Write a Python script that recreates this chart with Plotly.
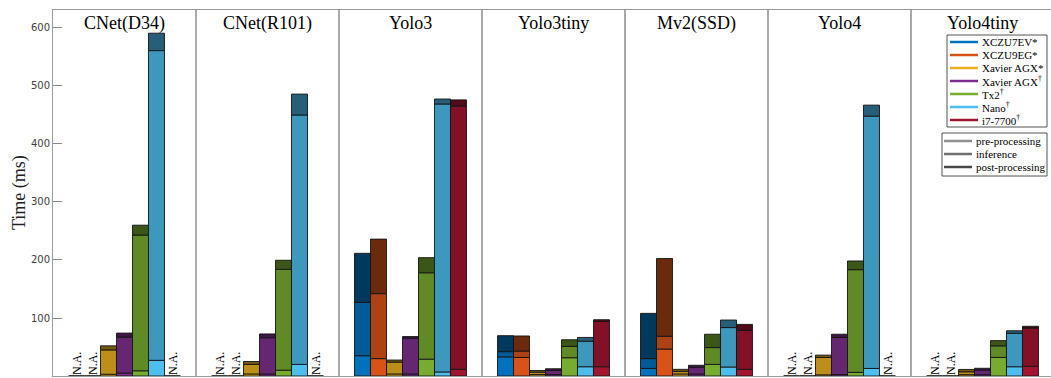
import plotly.graph_objects as go

# Models (one panel each) and devices (one bar per device inside a panel)
models = ["CNet(D34)", "CNet(R101)", "Yolo3", "Yolo3tiny", "Mv2(SSD)", "Yolo4", "Yolo4tiny"]
devices = ["XCZU7EV*", "XCZU9EG*", "Xavier AGX*", "Xavier AGX<sup>†</sup>",
           "Tx2<sup>†</sup>", "Nano<sup>†</sup>", "i7-7700<sup>†</sup>"]
stages = ["pre-processing", "inference", "post-processing"]

N = None  # not available on that device
# Rows: devices, columns: models (time in ms)
pre_ms = [
    [N, N, 35, 33, 13, N, N],
    [N, N, 30, 32, 46.5, N, N],
    [3, 3.5, 3.5, 2.5, 3.5, 2, 2.3],
    [5, 3.5, 3.5, 2.5, 3.5, 2.5, 2.3],
    [9, 10, 29, 31.5, 20, 6.3, 32],
    [27, 20, 7, 16, 15.5, 13, 16],
    [N, N, 11.5, 16, 11.5, N, 16.7],
]
inference_ms = [
    [N, N, 92, 9, 17, N, N],
    [N, N, 112, 11, 22, N, N],
    [42, 16.5, 20.5, 4, 4.5, 30, 5],
    [62, 62.5, 61.5, 7, 11.5, 64, 8],
    [234, 174, 149, 19.5, 29, 177, 20],
    [534, 430, 462, 44, 68, 435, 57.5],
    [N, N, 454, 78, 67, N, 66],
]
post_ms = [
    [N, N, 84.5, 27.5, 78, N, N],
    [N, N, 94, 26, 134, N, N],
    [7, 5, 3.5, 3, 3.5, 4, 4],
    [7, 6.5, 3, 3, 3.5, 5.5, 3],
    [17, 15.5, 26, 11.5, 23, 15, 9],
    [30, 36, 8.5, 6.5, 13, 19, 4.5],
    [N, N, 10.5, 3, 10.5, N, 3],
]

device_colors = ["#0072BD", "#D95319", "#EDB120", "#7E2F8E", "#77AC30", "#4DBEEE", "#A2142F"]
stage_shade = [1.0, 0.8, 0.5]
stage_legend_colors = ["#8f8f8f", "#6f6f6f", "#474747"]

W, H = 1051, 378
M_L, M_R, M_T, M_B = 53, 0, 10, 2
BARGAP = 0.217
Y_MAX = 631
SERIF = "Liberation Serif, DejaVu Serif, serif"


def shade(hex_color, f):
    r, g, b = (int(hex_color[i:i + 2], 16) for i in (1, 3, 5))
    return "rgb({},{},{})".format(round(r * f), round(g * f), round(b * f))


def px_x(px):
    return (px - M_L) / (W - M_L - M_R)


def px_y(py):
    return (H - M_B - py) / (H - M_T - M_B)


fig = go.Figure()
x_idx = list(range(len(models)))
stage_rows = [pre_ms, inference_ms, post_ms]

for k, dev in enumerate(devices):
    base = [0 if v is not None else None for v in pre_ms[k]]
    for s, rows in enumerate(stage_rows):
        vals = rows[k]
        fig.add_trace(go.Bar(
            x=x_idx, y=vals, base=base,
            offsetgroup=str(k),
            marker=dict(color=shade(device_colors[k], stage_shade[s]),
                        line=dict(color="rgba(20,20,20,0.9)", width=1)),
            name=dev + " " + stages[s],
            showlegend=False,
            hovertemplate="%{y} ms<extra></extra>",
        ))
        base = [b + v if (b is not None and v is not None) else None for b, v in zip(base, vals)]

# Bar slot geometry inside each panel
bar_w = (1 - BARGAP) / len(devices)
shapes = []
annotations = []

# "N.A." markers for missing device/model pairs
for k in range(len(devices)):
    for i in x_idx:
        if pre_ms[k][i] is None:
            xc = i + (k - (len(devices) - 1) / 2) * bar_w
            shapes.append(dict(type="line", xref="x", yref="y",
                               x0=xc - bar_w / 2, x1=xc + bar_w / 2, y0=0, y1=0,
                               line=dict(color="black", width=1.5)))
            annotations.append(dict(x=xc, y=0, xref="x", yref="y", text="N.A.",
                                    textangle=-90, showarrow=False,
                                    xanchor="center", yanchor="bottom",
                                    yshift=-1, font=dict(family=SERIF, size=12, color="black")))

# Panel separators and titles
for i in x_idx:
    if i > 0:
        shapes.append(dict(type="line", xref="x", yref="paper", x0=i - 0.5, x1=i - 0.5,
                           y0=0, y1=1, line=dict(color="#555555", width=1)))
    annotations.append(dict(x=i, y=1, xref="x", yref="paper", text=models[i],
                            showarrow=False, yanchor="top", yshift=-1,
                            font=dict(family=SERIF, size=18, color="black")))

# Device legend box
shapes.append(dict(type="rect", xref="paper", yref="paper",
                   x0=px_x(947), x1=px_x(1047), y0=px_y(127), y1=px_y(35),
                   line=dict(color="#555555", width=1), fillcolor="white", layer="above"))
for k, dev in enumerate(devices):
    yy = px_y(42 + 13 * k)
    shapes.append(dict(type="line", xref="paper", yref="paper",
                       x0=px_x(950), x1=px_x(978), y0=yy, y1=yy,
                       line=dict(color=device_colors[k], width=2.5), layer="above"))
    annotations.append(dict(x=px_x(980), y=yy, xref="paper", yref="paper", text=dev,
                            showarrow=False, xanchor="left", yanchor="middle",
                            font=dict(family=SERIF, size=11, color="black")))

# Stage legend box
shapes.append(dict(type="rect", xref="paper", yref="paper",
                   x0=px_x(942), x1=px_x(1047), y0=px_y(176), y1=px_y(133),
                   line=dict(color="#555555", width=1), fillcolor="white", layer="above"))
for s, st in enumerate(stages):
    yy = px_y(141 + 13 * s)
    shapes.append(dict(type="line", xref="paper", yref="paper",
                       x0=px_x(944), x1=px_x(972), y0=yy, y1=yy,
                       line=dict(color=stage_legend_colors[s], width=2.5), layer="above"))
    annotations.append(dict(x=px_x(974), y=yy, xref="paper", yref="paper", text=st,
                            showarrow=False, xanchor="left", yanchor="middle",
                            font=dict(family=SERIF, size=11, color="black")))

# Y axis title
annotations.append(dict(x=px_x(19), y=0.5, xref="paper", yref="paper", text="Time (ms)",
                        textangle=-90, showarrow=False, xanchor="center", yanchor="middle",
                        font=dict(family=SERIF, size=18, color="#222")))

fig.update_layout(
    width=W, height=H,
    margin=dict(l=M_L, r=M_R, t=M_T, b=M_B),
    barmode="group", bargap=BARGAP, bargroupgap=0,
    plot_bgcolor="white", paper_bgcolor="white",
    shapes=shapes, annotations=annotations,
    xaxis=dict(range=[-0.5, -0.5 + (W - M_L - M_R) / 143], showticklabels=False, ticks="",
               showgrid=False, zeroline=False, showline=True, linecolor="#9a9a9a",
               linewidth=1, mirror=True),
    yaxis=dict(range=[0, Y_MAX], tickvals=[0, 100, 200, 300, 400, 500, 600],
               ticks="inside", ticklen=9, tickcolor="#8a8a8a", showgrid=False,
               zeroline=False, showline=True, linecolor="#9a9a9a", linewidth=1, mirror=True,
               tickfont=dict(family="DejaVu Sans", size=10, color="#404040")),
)

fig.write_html("out.html")
